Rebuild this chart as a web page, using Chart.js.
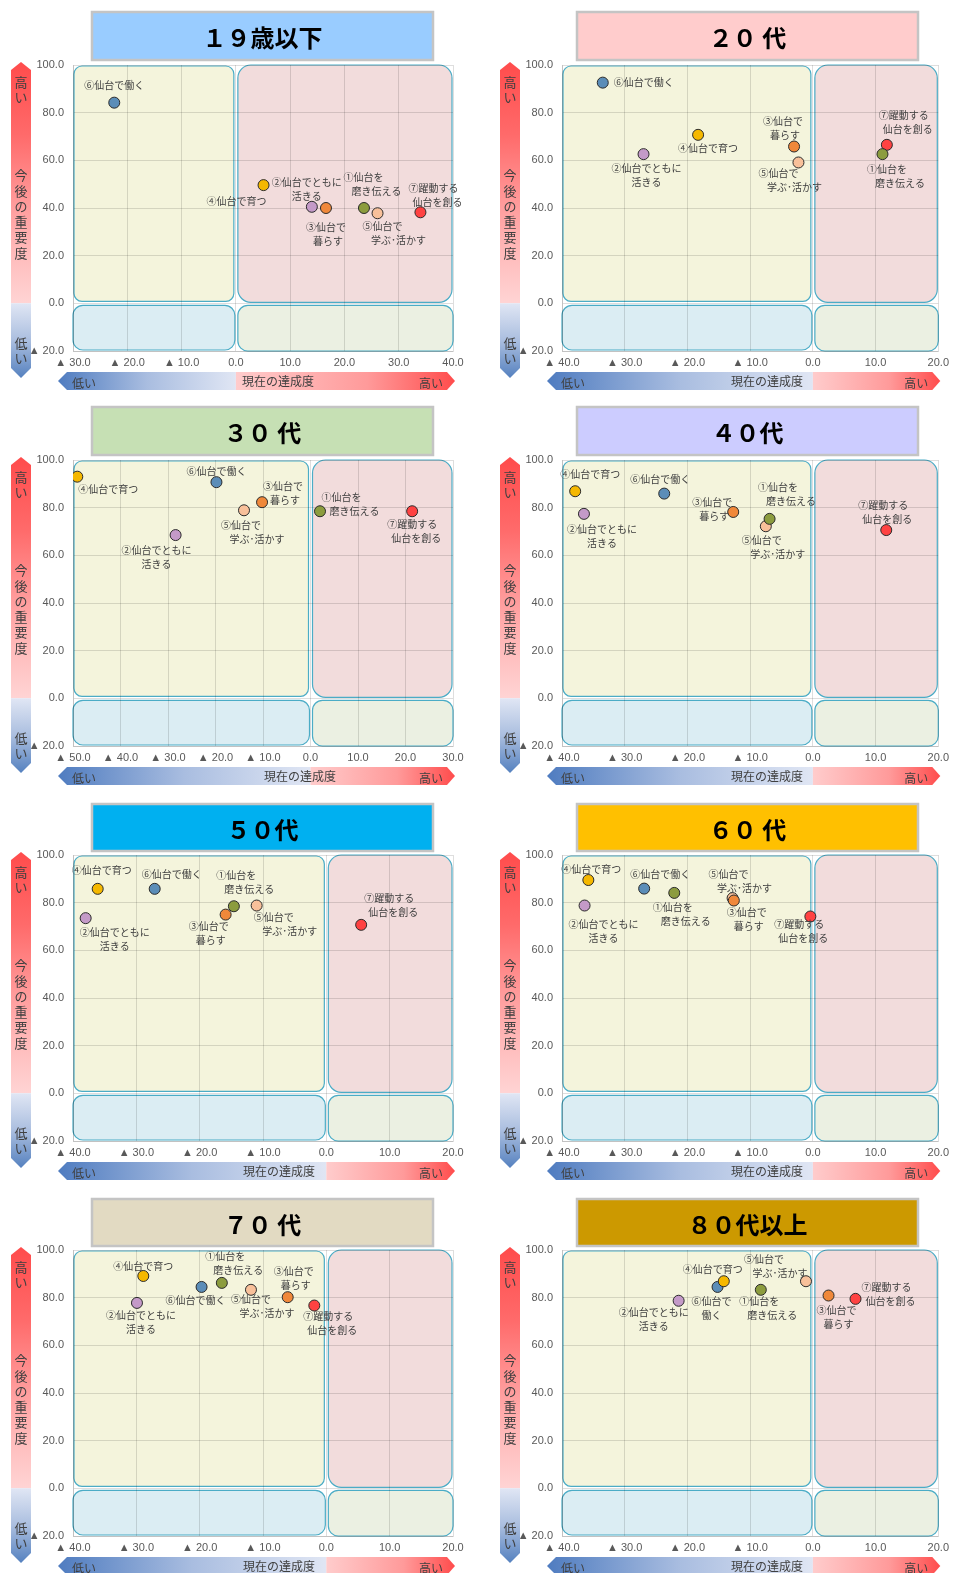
<!DOCTYPE html>
<html><head><meta charset="utf-8">
<script src="https://cdn.jsdelivr.net/npm/chart.js@4/dist/chart.umd.min.js"></script>
<style>
html,body{margin:0;padding:0;background:#fff}
body{width:954px;height:1573px;position:relative;overflow:hidden}
canvas{position:absolute}
</style></head><body>
<script>
// ---- categories / series ----
const categories = ['①仙台を磨き伝える','②仙台でともに活きる','③仙台で暮らす','④仙台で育つ','⑤仙台で学ぶ･活かす','⑥仙台で働く','⑦躍動する仙台を創る'];
const groups = ['１９歳以下','２０ 代','３０ 代','４０代','５０代','６０ 代','７０ 代','８０代以上'];

// 現在の達成度 (x) and 今後の重要度 (y), order ①..⑦
const ach19 = [23.6, 14.0, 16.6, 5.1, 26.1, -22.4, 34.0];
const imp19 = [40.0, 40.5, 40.0, 49.6, 37.8, 84.2, 38.2];
const ach20 = [11.1, -27.0, -3.0, -18.3, -2.3, -33.5, 11.8];
const imp20 = [62.6, 62.6, 65.8, 70.7, 59.1, 92.6, 66.5];
const ach30 = [2.0, -28.4, -10.2, -49.1, -14.0, -19.8, 21.4];
const imp30 = [78.5, 68.5, 82.3, 93.0, 78.9, 90.7, 78.5];
const ach40 = [-6.9, -36.5, -12.7, -37.9, -7.5, -23.7, 11.7];
const imp40 = [75.3, 77.4, 78.2, 86.9, 72.2, 85.9, 70.6];
const ach50 = [-14.6, -38.0, -15.9, -36.1, -11.0, -27.1, 5.5];
const imp50 = [78.5, 73.5, 75.0, 85.8, 78.8, 85.8, 70.7];
const ach60 = [-22.1, -36.4, -12.6, -35.8, -12.8, -26.9, -0.4];
const imp60 = [84.1, 78.8, 80.9, 89.5, 81.9, 85.9, 74.2];
const ach70 = [-16.5, -29.9, -6.1, -28.9, -11.9, -19.7, -1.9];
const imp70 = [86.2, 77.8, 80.2, 89.1, 83.3, 84.5, 76.7];
const ach80 = [-8.3, -21.4, 2.5, -14.2, -1.1, -15.2, 6.8];
const imp80 = [83.3, 78.7, 80.9, 86.9, 86.9, 84.5, 79.5];

// axis ranges
const xMins = [-30, -40, -50, -40, -40, -40, -40, -40];
const xMaxs = [40, 20, 30, 20, 20, 20, 20, 20];
const yMin = -20, yMax = 100;
const xStep = 10, yStep = 20;

// ---- styles ----
const achAll = [ach19, ach20, ach30, ach40, ach50, ach60, ach70, ach80];
const impAll = [imp19, imp20, imp30, imp40, imp50, imp60, imp70, imp80];
const pointColors = ['#8c9c3e', '#c49ac8', '#f0883a', '#f5b800', '#f8c09a', '#5b8db8', '#ff4242'];
const titleColors = ['#99ccff', '#ffcccc', '#c6e0b4', '#ccccff', '#00b0f0', '#ffc000', '#e2dac2', '#cc9900'];
const labelLines = [['①仙台を','磨き伝える'],['②仙台でともに','活きる'],['③仙台で','暮らす'],['④仙台で育つ'],['⑤仙台で','学ぶ･活かす'],['⑥仙台で働く'],['⑦躍動する','仙台を創る']];
const labelLines80_6 = ['⑥仙台で','働く'];
const lineShift = [6.5, 0, 1, 0, 8, 0, 2];
// label offsets (px) from point centre, per panel, order ①..⑦
const labelOffsets = [
  [[6,-24],[-5,-18],[1,26],[-27,16],[13,20],[0,-17],[15,-17]],
  [[11,22],[3,21],[-10,-18],[10,13],[-12,18],[41,0],[19,-23]],
  [[28,-7],[-19,22],[22,-9],[31,13],[5,22],[0,-11],[2,20]],
  [[15,-25],[18,22],[-20,-3],[15,-17],[4,21],[-4,-14],[-1,-18]],
  [[9,-24],[29,21],[-16,19],[4,-19],[25,19],[17,-15],[30,-20]],
  [[5,21],[19,26],[14,19],[3,-11],[4,-17],[16,-14],[-9,15]],
  [[10,-20],[4,19],[7,-19],[0,-10],[8,16],[-6,13],[16,18]],
  [[5,18],[-25,18],[9,22],[-11,-12],[-34,-15],[-6,21],[33,-5]]
];
const axisTitleX = [278, 290, 300, 290, 279, 290, 279, 290];
const JP = "'Noto Sans CJK JP', 'Noto Sans', sans-serif";
const TICKFONT = "'Liberation Sans', Arial, sans-serif";

function fmtTick(v){ return v < 0 ? '▲ ' + (-v).toFixed(1) : v.toFixed(1); }

function rr(ctx, x1, y1, x2, y2, r){
  const w = x2-x1, h = y2-y1;
  r = Math.min(r, w/2, h/2);
  ctx.beginPath();
  ctx.moveTo(x1+r, y1);
  ctx.lineTo(x2-r, y1); ctx.arcTo(x2, y1, x2, y1+r, r);
  ctx.lineTo(x2, y2-r); ctx.arcTo(x2, y2, x2-r, y2, r);
  ctx.lineTo(x1+r, y2); ctx.arcTo(x1, y2, x1, y2-r, r);
  ctx.lineTo(x1, y1+r); ctx.arcTo(x1, y1, x1+r, y1, r);
  ctx.closePath();
}

function makePanel(i){
  const col = i % 2, row = Math.floor(i / 2);
  const cv = document.createElement('canvas');
  cv.width = 477; cv.height = 395;
  cv.style.left = (col*477) + 'px'; cv.style.top = (row*395) + 'px';
  document.body.appendChild(cv);
  const leftW = col === 0 ? 73 : 85;
  const padR = col === 0 ? 24 : 12;

  const decor = {
    id: 'decor' + i,
    beforeDraw(chart){
      const {ctx, chartArea: a, scales: {x, y}} = chart;
      const x0 = x.getPixelForValue(0), y0 = y.getPixelForValue(0);
      ctx.save();
      // quadrants
      ctx.lineWidth = 1.2; ctx.strokeStyle = '#4bacc6';
      const quads = [
        [a.left+1, a.top+1, x0-2, y0-2, 8, '#f4f4dc'],
        [x0+2, a.top, a.right-1, y0-1, 13, '#f2dcdc'],
        [a.left, y0+2, x0-1, a.bottom-1, 10, '#dbedf3'],
        [x0+2, y0+2, a.right, a.bottom, 10, '#ebf0e2']
      ];
      quads.forEach(q => { rr(ctx, q[0], q[1], q[2], q[3], q[4]); ctx.fillStyle = q[5]; ctx.fill(); ctx.stroke(); });
      // title box
      const tx = col === 0 ? 92 : 100, ty = row < 2 ? 12 : 14, tw = 341, th = row < 2 ? 48 : 47;
      ctx.fillStyle = titleColors[i]; ctx.fillRect(tx, ty, tw, th);
      ctx.strokeStyle = '#c4c4c4'; ctx.lineWidth = 2.5; ctx.strokeRect(tx, ty, tw, th);
      ctx.fillStyle = '#000'; ctx.font = 'bold 24px ' + JP;
      ctx.textAlign = 'center'; ctx.textBaseline = 'middle';
      ctx.fillText(groups[i], tx + tw/2, ty + th/2 + 2);
      // vertical arrow
      const ax = a.left - 62, aw = 20, cx = ax + aw/2;
      let g = ctx.createLinearGradient(0, a.top-3, 0, y0);
      g.addColorStop(0, '#ff4c4c'); g.addColorStop(0.3, '#ff6a6a'); g.addColorStop(0.6, '#ff9d9d'); g.addColorStop(0.8, '#ffbcbc'); g.addColorStop(1, '#ffd4d4');
      ctx.fillStyle = g; ctx.beginPath();
      ctx.moveTo(cx, a.top-3); ctx.lineTo(ax+aw, a.top+5); ctx.lineTo(ax+aw, y0); ctx.lineTo(ax, y0); ctx.lineTo(ax, a.top+5); ctx.closePath(); ctx.fill();
      g = ctx.createLinearGradient(0, y0, 0, a.bottom+27);
      g.addColorStop(0, '#e0e6f4'); g.addColorStop(0.5, '#aabedf'); g.addColorStop(1, '#5581bf');
      ctx.fillStyle = g; ctx.beginPath();
      ctx.moveTo(ax, y0); ctx.lineTo(ax+aw, y0); ctx.lineTo(ax+aw, a.bottom+17); ctx.lineTo(cx, a.bottom+27); ctx.lineTo(ax, a.bottom+17); ctx.closePath(); ctx.fill();
      ctx.fillStyle = '#404040'; ctx.font = '13px ' + JP; ctx.textAlign = 'center'; ctx.textBaseline = 'middle';
      ['高','い'].forEach((c, k) => ctx.fillText(c, cx, 82 + k*15));
      ['今','後','の','重','要','度'].forEach((c, k) => ctx.fillText(c, cx, 175 + k*15.6));
      ['低','い'].forEach((c, k) => ctx.fillText(c, cx, 343 + k*15));
      // horizontal arrow
      const by1 = a.bottom + 21, by2 = a.bottom + 39, bm = (by1 + by2)/2;
      g = ctx.createLinearGradient(a.left-15, 0, x0, 0);
      g.addColorStop(0, '#4f7cc0'); g.addColorStop(0.5, '#a9bde0'); g.addColorStop(1, '#e0e6f4');
      ctx.fillStyle = g; ctx.beginPath();
      ctx.moveTo(a.left-15, bm); ctx.lineTo(a.left-6, by1); ctx.lineTo(x0, by1); ctx.lineTo(x0, by2); ctx.lineTo(a.left-6, by2); ctx.closePath(); ctx.fill();
      g = ctx.createLinearGradient(x0, 0, a.right+2, 0);
      g.addColorStop(0, '#ffcccc'); g.addColorStop(0.6, '#ff9a9a'); g.addColorStop(1, '#ff4c4c');
      ctx.fillStyle = g; ctx.beginPath();
      ctx.moveTo(x0, by1); ctx.lineTo(a.right-6, by1); ctx.lineTo(a.right+2, bm); ctx.lineTo(a.right-6, by2); ctx.lineTo(x0, by2); ctx.closePath(); ctx.fill();
      ctx.fillStyle = '#404040'; ctx.font = '12px ' + JP;
      ctx.fillText('低い', a.left + 11, bm + 2);
      ctx.fillText('現在の達成度', axisTitleX[i], bm);
      ctx.fillText('高い', a.right - 22, bm + 2);
      ctx.restore();
    },
    afterDatasetsDraw(chart){
      const ctx = chart.ctx;
      ctx.save();
      ctx.font = '10px ' + JP; ctx.fillStyle = '#404040';
      ctx.textAlign = 'center'; ctx.textBaseline = 'middle';
      chart.data.datasets.forEach((ds, k) => {
        const el = chart.getDatasetMeta(k).data[0];
        if (!el) return;
        const lines = (i === 7 && k === 5) ? labelLines80_6 : labelLines[k];
        const off = labelOffsets[i][k];
        const n = lines.length;
        lines.forEach((t, j) => {
          const sh = n > 1 ? (j === 0 ? -lineShift[k] : lineShift[k]) : 0;
          ctx.fillText(t, el.x + off[0] + sh, el.y + off[1] + (j - (n-1)/2) * 14);
        });
      });
      ctx.restore();
    }
  };

  new Chart(cv, {
    type: 'scatter',
    data: {
      datasets: categories.map((name, k) => ({
        label: name,
        data: [{x: achAll[i][k], y: impAll[i][k]}],
        backgroundColor: pointColors[k],
        borderColor: '#2b2b2b',
        borderWidth: 1,
        pointRadius: 5.5
      }))
    },
    options: {
      responsive: false, animation: false, events: [],
      layout: {padding: {left: 0, right: padR, top: 65, bottom: 0}},
      plugins: {legend: {display: false}, tooltip: {enabled: false}, title: {display: false}},
      scales: {
        x: {
          type: 'linear', min: xMins[i], max: xMaxs[i],
          ticks: {stepSize: xStep, callback: v => fmtTick(v), color: '#595959', font: {family: TICKFONT, size: 11}, padding: 5, maxRotation: 0, autoSkip: false},
          grid: {color: 'rgba(0,0,0,0.13)', drawTicks: false},
          border: {color: 'rgba(0,0,0,0.13)'},
          afterFit(s){ s.height = 44; }
        },
        y: {
          type: 'linear', min: yMin, max: yMax,
          ticks: {stepSize: yStep, callback: v => fmtTick(v), color: '#595959', font: {family: TICKFONT, size: 11}, padding: 9},
          grid: {color: 'rgba(0,0,0,0.13)', drawTicks: false},
          border: {color: 'rgba(0,0,0,0.13)'},
          afterFit(s){ s.width = leftW; }
        }
      }
    },
    plugins: [decor]
  });
}
for (let i = 0; i < 8; i++) makePanel(i);
</script>
</body></html>
